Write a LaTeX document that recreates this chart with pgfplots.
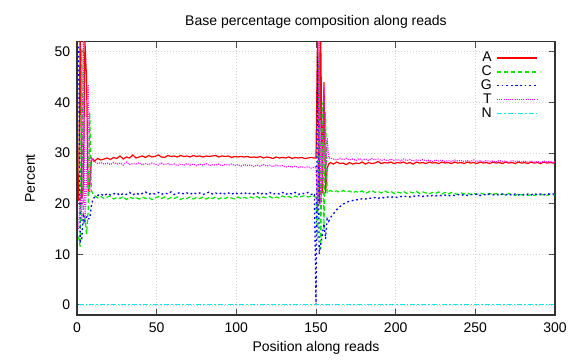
\documentclass[border=0pt]{standalone}
\usepackage{pgfplots}
\pgfplotsset{compat=1.18}
\usepackage{pgfplotstable}
\usepackage{fontspec}
\setmainfont{Liberation Sans}
\definecolor{gA}{RGB}{255,0,0}
\definecolor{gC}{RGB}{0,230,0}
\definecolor{gG}{RGB}{0,0,255}
\definecolor{gT}{RGB}{255,0,255}
\definecolor{gN}{RGB}{0,238,238}
\pgfplotstableread{
x A C G T
1 20.5 13.5 51.0 15.0
2 54.0 11.5 12.5 22.0
3 21.0 50.5 13.0 16.5
4 23.0 16.0 18.0 53.0
5 52.0 17.0 16.5 17.0
6 44.5 14.0 17.5 24.0
7 22.5 18.5 17.0 43.5
8 24.0 38.0 17.0 22.0
9 28.5 22.5 19.5 29.0
10 28.8 22.0 21.0 28.4
11 28.4 21.6 21.2 28.3
13 28.9 21.1 21.6 27.9
15 28.6 21.4 21.9 28.1
17 28.8 21.0 21.5 27.8
19 29.0 21.3 22.0 28.0
21 28.7 21.5 21.7 27.7
23 29.1 20.9 21.9 28.1
25 28.9 21.2 22.1 27.8
27 29.4 21.0 21.6 28.0
29 28.8 21.4 22.0 27.6
31 29.2 20.8 21.8 28.2
33 29.0 21.3 22.2 27.7
35 29.6 21.0 21.7 27.9
37 29.0 21.2 22.1 27.8
39 29.2 20.9 21.8 28.1
41 29.4 21.3 22.0 27.6
43 29.1 21.0 22.3 27.9
45 29.5 21.2 21.8 27.7
47 29.2 20.8 22.1 28.0
49 29.3 21.1 21.9 27.8
51 29.6 21.4 22.2 27.6
53 29.2 21.0 21.8 28.0
55 29.1 21.3 22.1 27.7
57 29.5 20.9 21.9 27.9
59 29.3 21.2 22.3 27.6
61 29.4 21.0 21.8 27.8
63 29.2 21.3 22.0 27.5
65 29.5 20.8 22.2 27.8
67 29.3 21.1 21.9 27.6
69 29.4 21.0 22.1 27.9
71 29.2 21.3 21.8 27.6
73 29.5 20.9 22.2 27.8
75 29.3 21.2 21.9 27.5
77 29.4 21.0 22.1 27.8
79 29.2 21.3 21.8 27.6
81 29.4 20.9 22.0 27.9
83 29.3 21.2 22.3 27.5
85 29.4 21.0 21.9 27.7
87 29.5 21.3 22.1 27.6
89 29.2 20.9 21.8 27.8
91 29.4 21.2 22.2 27.5
93 29.3 21.0 21.9 27.7
95 29.4 21.3 22.1 27.6
97 29.1 21.1 21.8 27.8
99 29.3 20.9 22.2 27.5
101 29.2 21.3 21.9 27.7
103 29.3 21.0 22.0 27.4
105 29.2 21.2 22.2 27.7
107 29.3 21.0 21.8 27.5
109 29.1 21.3 22.1 27.6
111 29.2 21.1 21.9 27.3
113 29.1 21.4 22.2 27.6
115 29.3 21.0 21.8 27.4
117 29.0 21.3 22.1 27.7
119 29.2 21.1 21.9 27.4
121 29.1 21.4 22.2 27.6
123 28.9 21.0 21.8 27.3
125 29.2 21.3 22.1 27.6
127 29.0 21.1 21.9 27.4
129 29.1 21.5 22.2 27.5
131 29.0 21.2 21.8 27.2
133 29.2 21.4 22.1 27.4
135 28.9 21.1 21.9 27.2
137 29.1 21.5 22.2 27.4
139 29.0 21.2 21.8 27.1
141 29.1 21.4 22.1 27.3
143 28.9 21.6 21.9 27.1
145 29.0 21.3 22.2 27.3
147 29.1 21.5 21.8 27.0
149 29.0 21.4 22.0 27.2
150 29.0 21.2 0.0 27.3
151 54.0 13.0 49.0 18.0
152 20.0 50.0 10.0 54.0
153 52.0 11.0 12.0 20.0
154 22.0 40.0 14.0 25.0
155 44.0 15.0 16.0 43.0
156 22.0 38.0 13.0 24.0
157 27.0 22.0 17.0 33.0
158 27.8 22.4 16.5 29.0
159 28.1 22.6 17.2 29.0
161 27.8 22.3 18.0 28.8
163 28.2 22.5 18.8 28.6
165 27.9 22.2 19.4 28.9
167 28.0 22.6 19.9 28.7
169 27.7 22.3 20.2 28.9
171 28.1 22.5 20.5 28.6
173 27.8 22.1 20.6 28.8
175 28.0 22.4 20.8 28.5
177 27.9 22.2 20.7 28.9
179 28.2 22.5 21.0 28.6
181 27.8 22.0 20.9 28.8
183 28.1 22.3 21.1 28.5
185 27.9 22.6 21.0 28.9
187 28.0 22.2 21.2 28.6
189 28.3 22.4 21.0 28.8
191 27.9 22.1 21.3 28.5
193 28.1 22.5 21.1 28.7
195 28.0 22.2 21.3 28.4
197 28.2 22.4 21.2 28.8
199 27.9 22.0 21.4 28.5
201 28.1 22.3 21.2 28.7
203 28.0 22.1 21.4 28.4
205 28.2 22.4 21.3 28.8
207 27.9 22.0 21.5 28.5
209 28.1 22.3 21.3 28.7
211 27.8 22.1 21.5 28.4
213 28.2 22.4 21.4 28.6
215 28.0 22.0 21.6 28.5
217 28.1 22.3 21.4 28.7
219 27.9 22.1 21.6 28.4
221 28.2 21.9 21.4 28.6
223 28.0 22.2 21.6 28.3
225 28.1 22.0 21.5 28.6
227 27.9 22.3 21.7 28.4
229 28.2 21.9 21.5 28.6
231 28.0 22.2 21.7 28.3
233 28.1 21.9 21.5 28.5
235 27.9 22.2 21.7 28.3
237 28.2 22.0 21.6 28.6
239 28.0 21.8 21.8 28.4
241 28.1 22.1 21.6 28.5
243 27.9 21.9 21.8 28.3
245 28.2 22.1 21.6 28.5
247 28.0 21.8 21.8 28.3
249 28.1 22.0 21.7 28.6
251 27.9 21.8 21.9 28.3
253 28.2 22.1 21.6 28.5
255 28.0 21.9 21.8 28.2
257 28.1 21.7 21.7 28.5
259 27.9 22.0 21.9 28.3
261 28.2 21.8 21.7 28.4
263 28.0 22.0 21.9 28.2
265 28.1 21.7 21.6 28.5
267 27.9 21.9 21.9 28.3
269 28.2 21.7 21.7 28.4
271 28.0 22.0 21.9 28.2
273 28.1 21.8 21.6 28.5
275 27.9 21.6 21.9 28.3
277 28.2 21.9 21.7 28.4
279 28.0 21.7 21.9 28.2
281 28.1 21.9 21.6 28.4
283 27.9 21.6 21.9 28.2
285 28.2 21.8 21.7 28.4
287 28.0 21.6 22.0 28.2
289 28.1 21.9 21.7 28.3
291 27.9 21.7 21.9 28.1
293 28.2 21.8 21.7 28.4
295 28.0 21.6 22.0 28.2
297 28.1 21.9 21.8 28.3
299 28.0 21.7 21.9 28.1
300 28.2 21.8 21.8 28.3
}\basedata
\begin{document}
\fontsize{14}{16}\selectfont
\begin{tikzpicture}
\useasboundingbox (-77pt,-45pt) rectangle (499pt,315pt);
\begin{axis}[
  at={(0,0)}, anchor=south west,
  scale only axis, width=478pt, height=273.5pt,
  xmin=0, xmax=300, ymin=-2, ymax=52,
  xtick={0,50,...,300}, ytick={0,10,...,50},
  /pgf/number format/assume math mode=true,
  tick label style={font=\fontsize{14}{16}\selectfont},
  xticklabel style={anchor=center, yshift=-13pt},
  yticklabel style={xshift=-2pt},
  label style={font=\fontsize{14}{16}\selectfont},
  title style={font=\fontsize{14}{16}\selectfont, yshift=2pt},
  title={Base percentage composition along reads},
  xlabel={Position along reads},
  ylabel={Percent},
  xlabel style={at={(axis description cs:0.5,-0.1207)}, anchor=center},
  ylabel style={at={(axis description cs:-0.098,0.5)}, anchor=center},
  axis line style={black!80, line width=1.3pt},
  major tick length=6pt,
  tick style={black!70, line width=0.8pt},
  grid=major,
  major grid style={gray!35, line width=0.5pt, dash pattern=on 1pt off 2pt},
  clip=true,
  legend cell align=right,
  legend plot pos=right,
  legend image post style={xscale=2.34, line width=1.4pt},
  legend style={at={(0.964,0.967)}, anchor=north east, draw=none, fill=none,
    font=\fontsize{14}{14}\selectfont, inner sep=0pt, row sep=-1pt,
    nodes={inner ysep=1.5pt, inner xsep=4.5pt}},
]
\addplot[color=gA, line width=1.2pt] table[x=x, y=A] {\basedata};
\addlegendentry{A}
\addplot[color=gC, line width=1.2pt, dash pattern=on 4.5pt off 2.5pt] table[x=x, y=C] {\basedata};
\addlegendentry{C}
\addplot[color=gG, line width=1.3pt, dash pattern=on 1.8pt off 2.8pt] table[x=x, y=G] {\basedata};
\addlegendentry{G}
\addplot[color=gT, line width=1.2pt, dash pattern=on 1pt off 1.2pt] table[x=x, y=T] {\basedata};
\addlegendentry{T}
\addplot[color=gN, line width=1.2pt, dash pattern=on 5pt off 2pt on 1.7pt off 2pt] coordinates {(1,0) (300,0)};
\addlegendentry{N}
\end{axis}
\end{tikzpicture}
\end{document}
